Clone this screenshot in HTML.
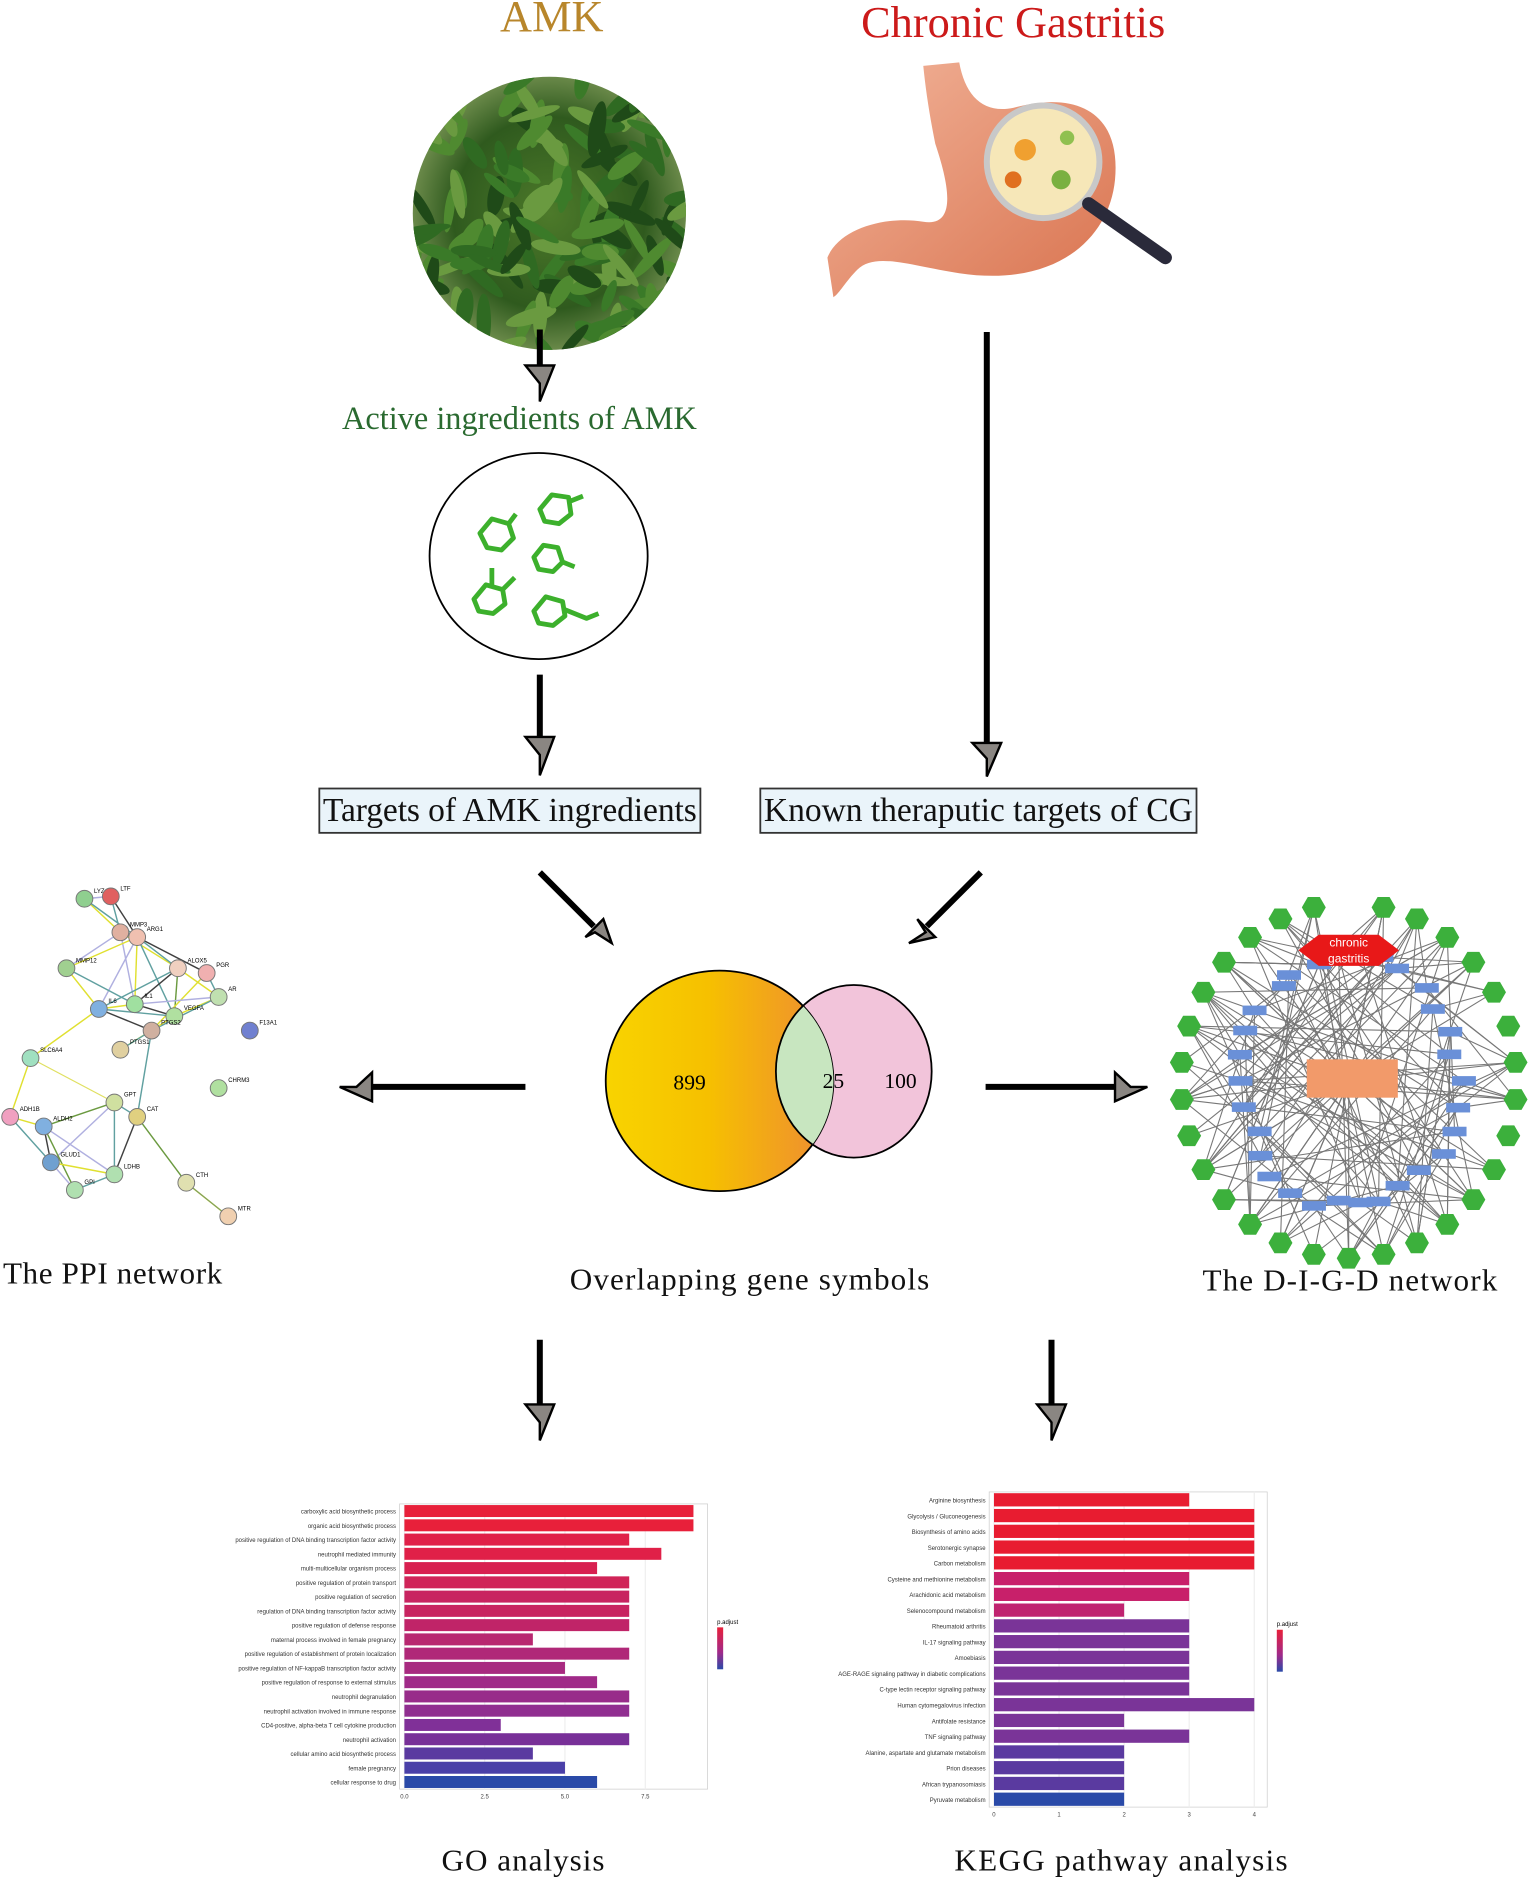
<!DOCTYPE html>
<html><head><meta charset="utf-8"><style>
html,body{margin:0;padding:0;background:#fff}
svg{display:block}
</style></head><body>
<svg id="s" width="1535" height="1879" viewBox="0 0 1280 1568" xmlns="http://www.w3.org/2000/svg" font-family="Liberation Serif, serif">
<defs>
<linearGradient id="vg" x1="0" x2="1" y1="0" y2="0">
<stop offset="0" stop-color="#f8d400"/><stop offset="0.45" stop-color="#f6c000"/><stop offset="1" stop-color="#ee8a35"/></linearGradient>
<radialGradient id="pg" cx="0.5" cy="0.5" r="0.5"><stop offset="0" stop-color="#4d7a2a"/><stop offset="0.7" stop-color="#2f5a1e"/><stop offset="1" stop-color="#6b8a4a"/></radialGradient>
<linearGradient id="st" x1="0" x2="1" y1="0" y2="1"><stop offset="0" stop-color="#f2b49a"/><stop offset="1" stop-color="#d9734f"/></linearGradient>
<linearGradient id="gob" x1="0" x2="0" y1="0" y2="1"><stop offset="0" stop-color="#e8203a"/><stop offset="0.6" stop-color="#a02a8a"/><stop offset="1" stop-color="#2a4aa8"/></linearGradient>
<clipPath id="pc"><circle cx="458" cy="178" r="114"/></clipPath>
</defs>
<text x="460" y="26" font-size="37" fill="#b8862b" text-anchor="middle">AMK</text>
<text x="845" y="31" font-size="37" fill="#cc1a1a" text-anchor="middle">Chronic Gastritis</text>
<g clip-path="url(#pc)" id="plant"><circle cx="458" cy="178" r="115" fill="url(#pg)"/></g>
<path d="M770 55 L800 52 C805 80 820 95 845 90 C900 75 935 95 930 150 C925 200 880 240 800 228 C760 222 730 210 715 225 C705 235 700 245 695 248 L690 215 C700 190 740 180 770 185 C800 190 790 150 780 120 C775 95 772 75 770 55 Z" fill="url(#st)"/>
<circle cx="870" cy="135" r="47" fill="#f6e7b8" stroke="#c8c8c8" stroke-width="5"/>
<circle cx="855" cy="125" r="9" fill="#f0a030"/><circle cx="885" cy="150" r="8" fill="#7ab040"/><circle cx="845" cy="150" r="7" fill="#e07020"/><circle cx="890" cy="115" r="6" fill="#90c050"/>
<line x1="908" y1="170" x2="972" y2="215" stroke="#2a2a3a" stroke-width="11" stroke-linecap="round"/>
<g stroke="#000" stroke-width="5" fill="none">
<line x1="450" y1="275" x2="450" y2="310"/><line x1="450" y1="563" x2="450" y2="620"/><line x1="823" y1="277" x2="823" y2="625"/>
<line x1="450" y1="728" x2="495" y2="773"/><line x1="818" y1="728" x2="773" y2="773"/>
<line x1="438" y1="907" x2="305" y2="907"/><line x1="822" y1="907" x2="935" y2="907"/>
<line x1="450" y1="1118" x2="450" y2="1178"/><line x1="877" y1="1118" x2="877" y2="1178"/>
</g>
<g fill="#8a8682" stroke="#000" stroke-width="2">
<polygon points="438,305 462,305 450,335 450,320"/>
<polygon points="438,615 462,615 450,647 450,630"/>
<polygon points="811,620 835,620 823,648 823,633"/>
<polygon points="488,782 503,767 510,787 496,778"/>
<polygon points="765,767 780,782 758,787 772,778"/>
<polygon points="310,895 310,919 283,907 297,907"/>
<polygon points="930,895 930,919 957,907 943,907"/>
<polygon points="438,1172 462,1172 450,1202 450,1187"/>
<polygon points="865,1172 889,1172 877,1202 877,1187"/>
</g>
<text x="433" y="358" font-size="27" fill="#2a6a30" text-anchor="middle">Active ingredients of AMK</text>
<ellipse cx="449" cy="464" rx="91" ry="86" fill="#fff" stroke="#000" stroke-width="1.5"/>
<g stroke="#3cb02c" stroke-width="4" fill="none" stroke-linejoin="round">
<path d="M400 445 l10 -12 l14 4 l4 12 l-10 10 l-12 -2 z M424 437 l6 -8"/>
<path d="M450 425 l10 -12 l14 2 l2 14 l-10 8 l-12 -2 z M476 418 l10 -4"/>
<path d="M445 465 l8 -10 l12 2 l4 12 l-8 8 l-12 -2 z M469 469 l10 4"/>
<path d="M395 500 l10 -12 l14 4 l2 12 l-10 8 l-12 -2 z M419 492 l10 -10 M410 490 l0 -16"/>
<path d="M445 510 l10 -12 l14 4 l2 12 l-10 8 l-12 -2 z M469 508 l20 8 l10 -4"/>
</g>
<rect x="266" y="658" width="318" height="37" fill="#eaf4fa" stroke="#333" stroke-width="1.5"/>
<rect x="634" y="658" width="364" height="37" fill="#eaf4fa" stroke="#333" stroke-width="1.5"/>
<text x="425" y="685" font-size="28" text-anchor="middle" fill="#111" textLength="312">Targets of AMK ingredients</text>
<text x="816" y="685" font-size="28" text-anchor="middle" fill="#111" textLength="358">Known theraputic targets of CG</text>
<ellipse cx="712" cy="894" rx="65" ry="72" fill="#f2c4da" stroke="#000" stroke-width="1.5"/>
<ellipse cx="600" cy="902" rx="95" ry="92" fill="url(#vg)" stroke="#000" stroke-width="1.5"/>
<clipPath id="vc"><ellipse cx="600" cy="902" rx="95" ry="92"/></clipPath>
<ellipse cx="712" cy="894" rx="65" ry="72" fill="#c8e6c0" clip-path="url(#vc)" stroke="#000" stroke-width="1.5"/>
<text x="575" y="909" font-size="18" text-anchor="middle">899</text>
<text x="695" y="908" font-size="18" text-anchor="middle">25</text>
<text x="751" y="908" font-size="18" text-anchor="middle">100</text>
<g id="ppi"></g>
<g id="dig"></g>
<text x="2" y="1071" font-size="26" fill="#111" textLength="183">The PPI network</text>
<text x="625" y="1076" font-size="26" text-anchor="middle" fill="#111" textLength="300">Overlapping gene symbols</text>
<text x="1126" y="1077" font-size="26" text-anchor="middle" fill="#111" textLength="246">The D-I-G-D network</text>
<g id="go"></g><g id="kegg"></g>
<text x="436" y="1561" font-size="26" text-anchor="middle" fill="#111" textLength="136">GO analysis</text>
<text x="935" y="1561" font-size="26" text-anchor="middle" fill="#111" textLength="278">KEGG pathway analysis</text>
</svg>
<script>
var NS="http://www.w3.org/2000/svg";
function el(p,t,a,txt){var e=document.createElementNS(NS,t);for(var k in a)e.setAttribute(k,a[k]);if(txt!==undefined)e.textContent=txt;p.appendChild(e);return e;}
var seed=7;function R(){seed=(seed*16807)%2147483647;return seed/2147483647;}
var pl=document.getElementById("plant");
for(var i=0;i<160;i++){var x=345+R()*230,y=65+R()*230;el(pl,"ellipse",{cx:x,cy:y,rx:14+R()*10,ry:4+R()*3,transform:"rotate("+(R()*180)+" "+x+" "+y+")",fill:["#2f6a22","#4f8a30","#1f4a18","#6a9a40","#3a7a28"][i%5]});}
var ppi=document.getElementById("ppi");
var nodes=[[70,750,"LYZ"],[92,748,"LTF"],[100,778,"MMP3"],[114,782,"ARG1"],[55,808,"MMP12"],[148,808,"ALOX5"],[172,812,"PGR"],[182,832,"AR"],[82,842,"IL6"],[112,838,"IL1"],[145,848,"VEGFA"],[126,860,"PTGS2"],[100,876,"PTGS1"],[208,860,"F13A1"],[25,883,"SLC6A4"],[182,908,"CHRM3"],[95,920,"GPT"],[114,932,"CAT"],[8,932,"ADH1B"],[36,940,"ALDH2"],[42,970,"GLUD1"],[62,993,"GPI"],[95,980,"LDHB"],[155,987,"CTH"],[190,1015,"MTR"]];
var cols=["#8fcf8f","#e06060","#e0b0a0","#f0c0b0","#a0d090","#f0d0c0","#f0b0b0","#c0e0b0","#80b0e0","#a0e0a0","#b0e0a0","#d0b0a0","#e0d0a0","#7080d0","#a0e0c0","#b0e0a0","#d0e0a0","#e0d080","#f0a0c0","#80b0e0","#70a0d0","#b0e0b0","#b0e0b0","#e0e0b0","#f0d0b0"];
var lc=["#6b9a40","#b0b0e0","#e0e030","#60a0a0","#404040"];
for(var i=0;i<nodes.length;i++)for(var j=i+1;j<nodes.length;j++){var a=nodes[i],b=nodes[j];var d=Math.hypot(a[0]-b[0],a[1]-b[1]);if(d<75&&j!=13&&i!=13&&j!=15&&i!=15&&R()<0.7)el(ppi,"line",{x1:a[0],y1:a[1],x2:b[0],y2:b[1],stroke:lc[(i+j)%5],"stroke-width":1.2});}
el(ppi,"line",{x1:25,y1:883,x2:95,y2:920,stroke:"#e0e060","stroke-width":1});el(ppi,"line",{x1:155,y1:987,x2:190,y2:1015,stroke:"#80a060","stroke-width":1});
nodes.forEach(function(n,i){el(ppi,"circle",{cx:n[0],cy:n[1],r:7,fill:cols[i],stroke:"#777","stroke-width":0.8});el(ppi,"text",{x:n[0]+8,y:n[1]-5,"font-size":5,"font-family":"Liberation Sans"},n[2]);});
var dg=document.getElementById("dig");
var cx=1125,cy=902,hex=[],blue=[];
for(var i=0;i<30;i++){var t=-Math.PI/2+i*2*Math.PI/30;hex.push([cx+140*Math.cos(t),cy+148*Math.sin(t)]);}
hex=hex.filter(function(p,i){return i!=0;});
for(var i=0;i<30;i++){var t=i*2*Math.PI/30;blue.push([cx+(80+R()*20)*Math.cos(t),cy+(100+R()*10)*Math.sin(t)]);}
for(var k=0;k<140;k++){var a=hex[Math.floor(R()*hex.length)],b=blue[Math.floor(R()*blue.length)];el(dg,"line",{x1:a[0],y1:a[1],x2:b[0],y2:b[1],stroke:"#777","stroke-width":0.9});}
for(var k=0;k<30;k++){var a=hex[Math.floor(R()*hex.length)];el(dg,"line",{x1:a[0],y1:a[1],x2:cx,y2:cy,stroke:"#777","stroke-width":0.9});}
blue.forEach(function(p){el(dg,"rect",{x:p[0]-10,y:p[1]-4,width:20,height:8,fill:"#6a90d8"});});
hex.forEach(function(p){var r=10,pts="";for(var j=0;j<6;j++){var t=j*Math.PI/3;pts+=(p[0]+r*Math.cos(t))+","+(p[1]+r*Math.sin(t))+" ";}el(dg,"polygon",{points:pts,fill:"#3cb03c"});});
el(dg,"polygon",{points:"1083,793 1100,780 1150,780 1167,793 1150,806 1100,806",fill:"#e81818"});
el(dg,"text",{x:1125,y:790,"font-size":10,"text-anchor":"middle",fill:"#fff","font-family":"Liberation Sans"},"chronic");
el(dg,"text",{x:1125,y:803,"font-size":10,"text-anchor":"middle",fill:"#fff","font-family":"Liberation Sans"},"gastritis");
el(dg,"rect",{x:1090,y:884,width:76,height:32,fill:"#f29a6a"});
function chart(g,px,py,pw,ph,labels,vals,cols,scale,ticks,legy){
 el(g,"rect",{x:px,y:py,width:pw,height:ph,fill:"#fff",stroke:"#ccc","stroke-width":0.6});
 var n=vals.length,step=ph/n;
 ticks.forEach(function(t){var x=px+4+t[0]*scale;el(g,"line",{x1:x,y1:py,x2:x,y2:py+ph,stroke:"#eee"});el(g,"text",{x:x,y:py+ph+8,"font-size":5,"text-anchor":"middle","font-family":"Liberation Sans",fill:"#444"},t[1]);});
 for(var i=0;i<n;i++){var y=py+step*i+step*0.08;el(g,"rect",{x:px+4,y:y,width:vals[i]*scale,height:step*0.84,fill:cols[i]});el(g,"text",{x:px-3,y:y+step*0.6,"font-size":5,"text-anchor":"end","font-family":"Liberation Sans",fill:"#333"},labels[i]);}
 el(g,"rect",{x:px+pw+8,y:legy,width:5,height:35,fill:"url(#gob)"});
 el(g,"text",{x:px+pw+8,y:legy-3,"font-size":5,"font-family":"Liberation Sans"},"p.adjust");
}
var gl=["carboxylic acid biosynthetic process","organic acid biosynthetic process","positive regulation of DNA binding transcription factor activity","neutrophil mediated immunity","multi-multicellular organism process","positive regulation of protein transport","positive regulation of secretion","regulation of DNA binding transcription factor activity","positive regulation of defense response","maternal process involved in female pregnancy","positive regulation of establishment of protein localization","positive regulation of NF-kappaB transcription factor activity","positive regulation of response to external stimulus","neutrophil degranulation","neutrophil activation involved in immune response","CD4-positive, alpha-beta T cell cytokine production","neutrophil activation","cellular amino acid biosynthetic process","female pregnancy","cellular response to drug"];
var gv=[9,9,7,8,6,7,7,7,7,4,7,5,6,7,7,3,7,4,5,6];
var gc=["#e8203a","#e8203a","#e02048","#e02048","#d82050","#d02458","#c82460","#c82460","#c02468","#b82870","#b02878","#a82a80","#a02a88","#982c8a","#902e90","#803098","#783098","#5a3aa0","#4a40a8","#2a4aa8"];
chart(document.getElementById("go"),333,1255,257,238,gl,gv,gc,26.8,[[0,"0.0"],[2.5,"2.5"],[5,"5.0"],[7.5,"7.5"]],1358);
var kl=["Arginine biosynthesis","Glycolysis / Gluconeogenesis","Biosynthesis of amino acids","Serotonergic synapse","Carbon metabolism","Cysteine and methionine metabolism","Arachidonic acid metabolism","Selenocompound metabolism","Rheumatoid arthritis","IL-17 signaling pathway","Amoebiasis","AGE-RAGE signaling pathway in diabetic complications","C-type lectin receptor signaling pathway","Human cytomegalovirus infection","Antifolate resistance","TNF signaling pathway","Alanine, aspartate and glutamate metabolism","Prion diseases","African trypanosomiasis","Pyruvate metabolism"];
var kv=[3,4,4,4,4,3,3,2,3,3,3,3,3,4,2,3,2,2,2,2];
var kc=["#e81c30","#e81c30","#e81c30","#e81c30","#e81c30","#c8206a","#c8206a","#c02470","#7a3498","#7a3498","#7a3498","#7a3498","#7a3498","#7a3498","#7a3498","#7a3498","#5a3aa0","#5a3aa0","#5a3aa0","#2a4aa8"];
chart(document.getElementById("kegg"),825,1245,232,263,kl,kv,kc,54.3,[[0,"0"],[1,"1"],[2,"2"],[3,"3"],[4,"4"]],1360);
</script>
</body></html>
